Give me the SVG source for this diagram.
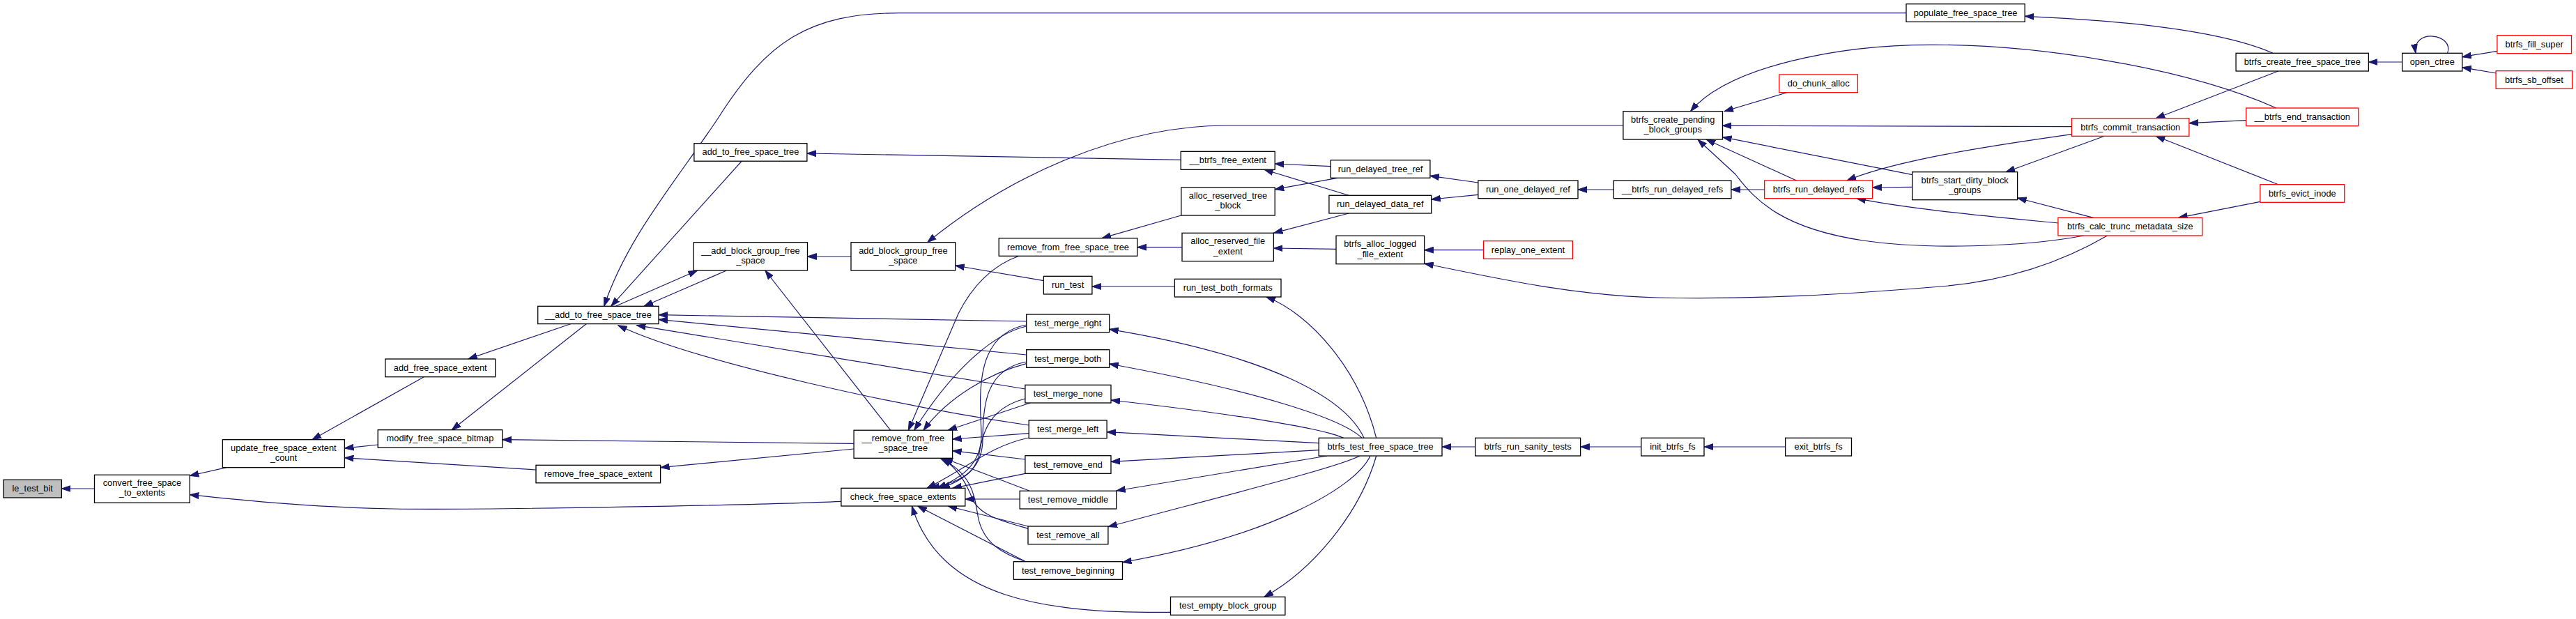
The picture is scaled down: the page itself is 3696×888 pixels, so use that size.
<svg xmlns="http://www.w3.org/2000/svg" width="3696" height="888" viewBox="0 0 3696 888">
<defs>
<marker id="a" markerWidth="14" markerHeight="10" refX="13" refY="5" orient="auto" markerUnits="userSpaceOnUse"><path d="M0,0.6 L13,5 L0,9.4 z" fill="#191970" stroke="#191970" stroke-width="1"/></marker>
<style>
rect{fill:#fff;stroke:#000;stroke-width:1.3}
.r rect{stroke:#f00}
.g rect{fill:#bfbfbf}
text{font-family:"Liberation Sans",Arial,Helvetica,sans-serif;font-size:12.8px;text-anchor:middle;fill:#000}
#edges path{fill:none;stroke:#191970;stroke-width:1.2;marker-end:url(#a)}
</style>
</defs>
<rect x="0" y="0" width="3696" height="888" style="fill:#fff;stroke:none"/>
<g id="edges">
<path d="M135.5,701 L88.4,701"/>
<path d="M325,670.7 L272.3,682.5"/>
<path d="M1207,719.3 C1100,724 700,732 565,730 C450,728 350,718 272.3,709.7"/>
<path d="M608.2,540.7 L447.9,630.7"/>
<path d="M542.2,638 L494.4,643"/>
<path d="M769,674 L494.4,656.7"/>
<path d="M820,464.3 L671.8,515"/>
<path d="M841.7,464.3 L648.2,616.7"/>
<path d="M1225,636.3 L720.7,630.7"/>
<path d="M1225,644 L947.6,670.7"/>
<path d="M1064.3,231 L876.7,439.3"/>
<path d="M2735,18.7 L1290,18.7 C1160,18.7 1100,60 1030,170 C970,260 900,340 866.7,439.3"/>
<path d="M1041.9,388.3 L924,439.3"/>
<path d="M883.3,439.3 L1000.6,388"/>
<path d="M1277.6,617.2 L1097.8,388"/>
<path d="M1221,368 L1158.5,368"/>
<path d="M2328.9,180 L1760,180 C1610,180 1450,250 1330.6,347.7"/>
<path d="M1497.4,402.7 L1370.7,381"/>
<path d="M1685.4,411 L1566.9,411"/>
<path d="M1694.2,229.3 L1157.9,220"/>
<path d="M1694.8,309 L1581,341.7"/>
<path d="M1696,354.7 L1631.8,354.7"/>
<path d="M1462,367.3 C1425,380 1395,410 1375,450 L1303.3,617.2"/>
<path d="M1909.3,238.7 L1829.2,235"/>
<path d="M1935.2,280.3 L1813.8,243.3"/>
<path d="M1918.7,255.3 L1829.2,271.7"/>
<path d="M1935.2,306 L1827.4,334.3"/>
<path d="M1917,357.3 L1827.4,356"/>
<path d="M2128.5,358.7 L2043.6,358.7"/>
<path d="M3023.6,338 C2960,375 2880,405 2772,412 C2650,422 2520,430 2378,427 C2260,424 2150,400 2043.6,378"/>
<path d="M2120.8,262 L2051.9,252.3"/>
<path d="M2120.8,279.3 L2053.7,286"/>
<path d="M2315.3,272 L2264,272"/>
<path d="M2531.6,272 L2483.9,272"/>
<path d="M2577.5,259 L2448,200"/>
<path d="M2743.7,268.3 L2686.6,269"/>
<path d="M2972.4,192.7 C2850,210 2720,230 2650,259"/>
<path d="M2952.9,320 C2850,310 2740,300 2664,284.7"/>
<path d="M2972.4,181.7 L2471.5,180.3"/>
<path d="M2743.7,250.7 L2471.5,196.7"/>
<path d="M3265.9,155 C3130,95 2920,64 2772,64.3 C2640,64 2480,95 2425.5,159.7"/>
<path d="M2564,132.7 L2473.9,159.7"/>
<path d="M2990,338 C2900,355 2760,358 2673,345 C2560,328 2520,290 2490,250 L2436,200.3"/>
<path d="M3019.5,195.3 L2878,246.7"/>
<path d="M3003.6,312.3 L2894.6,284"/>
<path d="M3268.8,102 L3093.2,169.7"/>
<path d="M3222.8,172.7 L3140.9,176.7"/>
<path d="M3268.8,264.7 L3093.2,195.3"/>
<path d="M3242.9,289.3 L3125.6,312.3"/>
<path d="M3261.1,76.3 C3190,45 3060,30 2905.2,23.3"/>
<path d="M3446.7,89 L3398.4,89"/>
<path d="M3511.6,76.3 C3522,48 3460,40 3466,76.3"/>
<path d="M3582.9,73.3 L3532.8,81.7"/>
<path d="M3581.1,105 L3532.8,96.7"/>
<path d="M2116.7,641 L2069,641"/>
<path d="M2354.8,641 L2267.6,641"/>
<path d="M2561.6,641 L2445,641"/>
<path d="M1974.7,628.3 C1950,530 1880,450 1816.8,426"/>
<path d="M1957,628.3 C1930,570 1820,510 1591.7,472.3"/>
<path d="M1954,628.3 C1925,600 1800,560 1591.7,522"/>
<path d="M1927.6,628.3 C1900,615 1780,595 1594,574"/>
<path d="M1892.2,635.7 L1588.1,619.7"/>
<path d="M1892.2,645.7 L1594,662.3"/>
<path d="M1904,654 L1601.7,704"/>
<path d="M1951,654 C1920,670 1780,705 1589.9,755.7"/>
<path d="M1966,654 C1945,700 1820,770 1610.5,806.7"/>
<path d="M1974.7,654 C1950,740 1880,820 1813.8,856.3"/>
<path d="M1472.7,461 L945,451.7"/>
<path d="M1472.7,509 L945,458.3"/>
<path d="M1470.9,558 L913.3,466.7"/>
<path d="M1476.2,610 C1300,585 1000,520 886.7,466.7"/>
<path d="M1472.7,468 C1420,480 1360,540 1311.7,617.2"/>
<path d="M1472.7,521.7 C1420,535 1360,570 1325,617.2"/>
<path d="M1478,578 L1360,617.2"/>
<path d="M1476.2,621.7 L1366.6,630"/>
<path d="M1471,659 L1366.6,646.7"/>
<path d="M1476.7,704 L1354,657.3"/>
<path d="M1475,758.3 C1440,748 1405,740 1395,715 C1385,690 1375,675 1353,657.3"/>
<path d="M1471.7,805.7 C1440,795 1410,780 1403,740 C1398,710 1395,680 1349,657.3"/>
<path d="M1472.7,466 C1400,480 1405,560 1408,620 C1410,665 1380,685 1345,700.3"/>
<path d="M1472.7,519 C1415,530 1410,580 1410,630 C1410,670 1385,688 1350,700.3"/>
<path d="M1471,572 C1420,585 1410,620 1405,650 C1400,680 1375,692 1335,700.3"/>
<path d="M1476.2,628 C1420,640 1390,670 1330,700.3"/>
<path d="M1471,679.3 L1366.7,700.3"/>
<path d="M1463.2,716 L1384.8,716"/>
<path d="M1475,755 L1360,726"/>
<path d="M1471.7,805.7 L1316.7,726"/>
<path d="M1679.5,878.3 C1500,880 1350,860 1308.3,726"/>
</g>
<g id="le_test_bit" class="g"><rect x="5" y="688.3" width="83.4" height="25.7"/><text x="46.7" y="705.2">le_test_bit</text></g>
<g id="convert_free_space_to_extents"><rect x="135.5" y="681.3" width="136.8" height="40"/><text x="203.9" y="697.1">convert_free_space</text><text x="203.9" y="711.3">_to_extents</text></g>
<g id="update_free_space_extent_count"><rect x="319.4" y="630.7" width="175" height="40"/><text x="406.9" y="646.5">update_free_space_extent</text><text x="406.9" y="660.7">_count</text></g>
<g id="add_free_space_extent"><rect x="552.8" y="515" width="157.9" height="25.7"/><text x="631.75" y="531.85">add_free_space_extent</text></g>
<g id="modify_free_space_bitmap"><rect x="542.2" y="616.7" width="178.5" height="25.5"/><text x="631.45" y="633.45">modify_free_space_bitmap</text></g>
<g id="remove_free_space_extent"><rect x="769" y="667.3" width="178.6" height="25.5"/><text x="858.3" y="684.05">remove_free_space_extent</text></g>
<g id="__add_to_free_space_tree"><rect x="771.7" y="439.3" width="173.3" height="25.3"/><text x="858.35" y="455.95">__add_to_free_space_tree</text></g>
<g id="add_to_free_space_tree"><rect x="995.9" y="205.7" width="162" height="25.5"/><text x="1076.9" y="222.45">add_to_free_space_tree</text></g>
<g id="__add_block_group_free_space"><rect x="995.3" y="347.7" width="163.2" height="40.3"/><text x="1076.9" y="363.65">__add_block_group_free</text><text x="1076.9" y="377.85">_space</text></g>
<g id="add_block_group_free_space"><rect x="1221" y="347.7" width="149.7" height="40.3"/><text x="1295.85" y="363.65">add_block_group_free</text><text x="1295.85" y="377.85">_space</text></g>
<g id="remove_from_free_space_tree"><rect x="1433.2" y="341.7" width="198.6" height="25.6"/><text x="1532.5" y="358.5">remove_from_free_space_tree</text></g>
<g id="run_test"><rect x="1497.4" y="396.3" width="69.5" height="25.7"/><text x="1532.15" y="413.15">run_test</text></g>
<g id="__btrfs_free_extent"><rect x="1694.2" y="217.3" width="135" height="26"/><text x="1761.7" y="234.3">__btrfs_free_extent</text></g>
<g id="alloc_reserved_tree_block"><rect x="1694.8" y="269" width="134.4" height="40"/><text x="1762" y="284.8">alloc_reserved_tree</text><text x="1762" y="299">_block</text></g>
<g id="alloc_reserved_file_extent"><rect x="1696" y="334.3" width="131.4" height="40.4"/><text x="1761.7" y="350.3">alloc_reserved_file</text><text x="1761.7" y="364.5">_extent</text></g>
<g id="run_test_both_formats"><rect x="1685.4" y="400.3" width="152.6" height="25.7"/><text x="1761.7" y="417.15">run_test_both_formats</text></g>
<g id="populate_free_space_tree"><rect x="2735" y="5.7" width="170.2" height="25.6"/><text x="2820.1" y="22.5">populate_free_space_tree</text></g>
<g id="test_merge_right"><rect x="1472.7" y="451" width="119" height="25.7"/><text x="1532.2" y="467.85">test_merge_right</text></g>
<g id="test_merge_both"><rect x="1472.7" y="501.7" width="119" height="25.6"/><text x="1532.2" y="518.5">test_merge_both</text></g>
<g id="test_merge_none"><rect x="1470.9" y="552.3" width="123.1" height="25.7"/><text x="1532.45" y="569.15">test_merge_none</text></g>
<g id="test_merge_left"><rect x="1476.2" y="603" width="111.9" height="25.7"/><text x="1532.15" y="619.85">test_merge_left</text></g>
<g id="test_remove_end"><rect x="1470.9" y="653.7" width="123.1" height="25.6"/><text x="1532.45" y="670.5">test_remove_end</text></g>
<g id="test_remove_middle"><rect x="1463.2" y="704.3" width="138.5" height="25.7"/><text x="1532.45" y="721.15">test_remove_middle</text></g>
<g id="test_remove_all"><rect x="1475" y="755" width="114.9" height="25.7"/><text x="1532.45" y="771.85">test_remove_all</text></g>
<g id="test_remove_beginning"><rect x="1454.4" y="805.7" width="156.1" height="25.6"/><text x="1532.45" y="822.5">test_remove_beginning</text></g>
<g id="test_empty_block_group"><rect x="1679.5" y="856.3" width="164.4" height="26"/><text x="1761.7" y="873.3">test_empty_block_group</text></g>
<g id="__remove_from_free_space_tree"><rect x="1225.1" y="617.2" width="141.5" height="40.1"/><text x="1295.85" y="633.05">__remove_from_free</text><text x="1295.85" y="647.25">_space_tree</text></g>
<g id="check_free_space_extents"><rect x="1206.9" y="700.3" width="177.9" height="25.7"/><text x="1295.85" y="717.15">check_free_space_extents</text></g>
<g id="run_delayed_tree_ref"><rect x="1909.3" y="229.7" width="142.6" height="25.6"/><text x="1980.6" y="246.5">run_delayed_tree_ref</text></g>
<g id="run_delayed_data_ref"><rect x="1906.9" y="280.3" width="146.8" height="25.7"/><text x="1980.3" y="297.15">run_delayed_data_ref</text></g>
<g id="btrfs_alloc_logged_file_extent"><rect x="1917" y="338.3" width="126.6" height="40.4"/><text x="1980.3" y="354.3">btrfs_alloc_logged</text><text x="1980.3" y="368.5">_file_extent</text></g>
<g id="replay_one_extent" class="r"><rect x="2128.5" y="345.7" width="127.9" height="25.6"/><text x="2192.45" y="362.5">replay_one_extent</text></g>
<g id="run_one_delayed_ref"><rect x="2120.8" y="259" width="143.2" height="25.7"/><text x="2192.4" y="275.85">run_one_delayed_ref</text></g>
<g id="__btrfs_run_delayed_refs"><rect x="2315.3" y="259" width="168.6" height="25.7"/><text x="2399.6" y="275.85">__btrfs_run_delayed_refs</text></g>
<g id="btrfs_run_delayed_refs" class="r"><rect x="2531.6" y="259" width="155" height="25.7"/><text x="2609.1" y="275.85">btrfs_run_delayed_refs</text></g>
<g id="btrfs_create_pending_block_groups"><rect x="2328.9" y="159.7" width="142.6" height="40.3"/><text x="2400.2" y="175.65">btrfs_create_pending</text><text x="2400.2" y="189.85">_block_groups</text></g>
<g id="do_chunk_alloc" class="r"><rect x="2552.8" y="107" width="112.6" height="25.7"/><text x="2609.1" y="123.85">do_chunk_alloc</text></g>
<g id="btrfs_start_dirty_block_groups"><rect x="2743.7" y="246.7" width="150.9" height="40"/><text x="2819.15" y="262.5">btrfs_start_dirty_block</text><text x="2819.15" y="276.7">_groups</text></g>
<g id="btrfs_test_free_space_tree"><rect x="1892.2" y="628.3" width="176.8" height="25.7"/><text x="1980.6" y="645.15">btrfs_test_free_space_tree</text></g>
<g id="btrfs_run_sanity_tests"><rect x="2116.7" y="628.3" width="150.9" height="25.7"/><text x="2192.15" y="645.15">btrfs_run_sanity_tests</text></g>
<g id="init_btrfs_fs"><rect x="2354.8" y="628.3" width="90.2" height="25.7"/><text x="2399.9" y="645.15">init_btrfs_fs</text></g>
<g id="exit_btrfs_fs"><rect x="2561.6" y="628.3" width="94.9" height="25.7"/><text x="2609.05" y="645.15">exit_btrfs_fs</text></g>
<g id="btrfs_create_free_space_tree"><rect x="3208.1" y="76.3" width="190.3" height="25.7"/><text x="3303.25" y="93.15">btrfs_create_free_space_tree</text></g>
<g id="open_ctree"><rect x="3446.7" y="76.3" width="86.1" height="25.7"/><text x="3489.75" y="93.15">open_ctree</text></g>
<g id="btrfs_fill_super" class="r"><rect x="3582.9" y="50.7" width="106.6" height="26"/><text x="3636.2" y="67.7">btrfs_fill_super</text></g>
<g id="btrfs_sb_offset" class="r"><rect x="3581.1" y="101.7" width="109.6" height="25.6"/><text x="3635.9" y="118.5">btrfs_sb_offset</text></g>
<g id="__btrfs_end_transaction" class="r"><rect x="3222.8" y="155" width="160.9" height="25.7"/><text x="3303.25" y="171.85">__btrfs_end_transaction</text></g>
<g id="btrfs_commit_transaction" class="r"><rect x="2972.4" y="169.7" width="168.5" height="25.6"/><text x="3056.65" y="186.5">btrfs_commit_transaction</text></g>
<g id="btrfs_evict_inode" class="r"><rect x="3242.9" y="264.7" width="120.8" height="25.6"/><text x="3303.3" y="281.5">btrfs_evict_inode</text></g>
<g id="btrfs_calc_trunc_metadata_size" class="r"><rect x="2952.9" y="312.3" width="206.9" height="25.7"/><text x="3056.35" y="329.15">btrfs_calc_trunc_metadata_size</text></g>
</svg>
